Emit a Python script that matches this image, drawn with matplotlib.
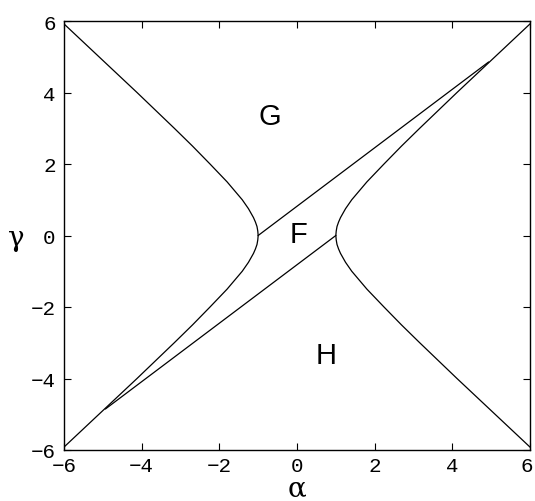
import matplotlib
matplotlib.use("Agg")
import matplotlib.pyplot as plt
from matplotlib.transforms import ScaledTranslation

# Hyperbola branches of the phase boundary, sampled along gamma
gamma_pts = [-6.0, -5.5, -5.0, -4.5, -4.0, -3.5, -3.0, -2.5, -2.0, -1.5, -1.0,
             -0.75, -0.5, -0.375, -0.25, -0.125, 0.0, 0.125, 0.25, 0.375, 0.5,
             0.75, 1.0, 1.5, 2.0, 2.5, 3.0, 3.5, 4.0, 4.5, 5.0, 5.5, 6.0]
alpha_right = [6.08, 5.59, 5.10, 4.61, 4.12, 3.64, 3.16, 2.69, 2.24, 1.80, 1.41,
               1.25, 1.12, 1.07, 1.03, 1.01, 1.00, 1.01, 1.03, 1.07, 1.12,
               1.25, 1.41, 1.80, 2.24, 2.69, 3.16, 3.64, 4.12, 4.61, 5.10, 5.59, 6.08]
alpha_left = [-a for a in alpha_right]

# Straight boundary segments (alpha, gamma)
upper_seg_alpha = [-1.0, 4.93]
upper_seg_gamma = [0.0, 4.85]
lower_seg_alpha = [1.0, -4.93]
lower_seg_gamma = [0.0, -4.85]

# Region labels
region_names = ["G", "F", "H"]
region_alpha = [-0.7, 0.05, 0.75]
region_gamma = [3.35, 0.05, -3.35]

ticks = [-6, -4, -2, 0, 2, 4, 6]
tick_labels = ["\u22126", "\u22124", "\u22122", "0", "2", "4", "6"]

fig = plt.figure(figsize=(5.35, 5.02), dpi=100)
ax = fig.add_axes([64 / 535, 51 / 502, 466 / 535, 429 / 502])

lw = 0.9
ax.plot(alpha_right, gamma_pts, color="black", lw=lw)
ax.plot(alpha_left, gamma_pts, color="black", lw=lw)
ax.plot(upper_seg_alpha, upper_seg_gamma, color="black", lw=lw)
ax.plot(lower_seg_alpha, lower_seg_gamma, color="black", lw=lw)

for name, a, g in zip(region_names, region_alpha, region_gamma):
    ax.text(a, g, name, fontsize=21, family="Liberation Sans",
            ha="center", va="center")

ax.set_xlim(-6, 6)
ax.set_ylim(-6, 6)
ax.set_xticks(ticks)
ax.set_yticks(ticks)
ax.set_xticklabels(tick_labels, family="Liberation Mono", fontsize=15)
ax.set_yticklabels(tick_labels, family="Liberation Mono", fontsize=15)
ax.tick_params(direction="in", length=5, width=0.8, top=True, right=True)
ax.tick_params(axis="x", pad=4)
ax.tick_params(axis="y", pad=6)
for sp in ax.spines.values():
    sp.set_linewidth(1.0)

# keep the rightmost tick label inside the canvas
last = ax.get_xticklabels()[-1]
last.set_transform(last.get_transform() +
                   ScaledTranslation(-3 / 100, 0, fig.dpi_scale_trans))

fig.text(297 / 535, 1 - 489 / 502, "\u03b1", fontsize=20,
         family="DejaVu Serif", ha="center", va="center")
fig.text(16 / 535, 1 - 238 / 502, "\u03b3", fontsize=20,
         family="DejaVu Serif", ha="center", va="center")

fig.savefig("out.png", dpi=100)
